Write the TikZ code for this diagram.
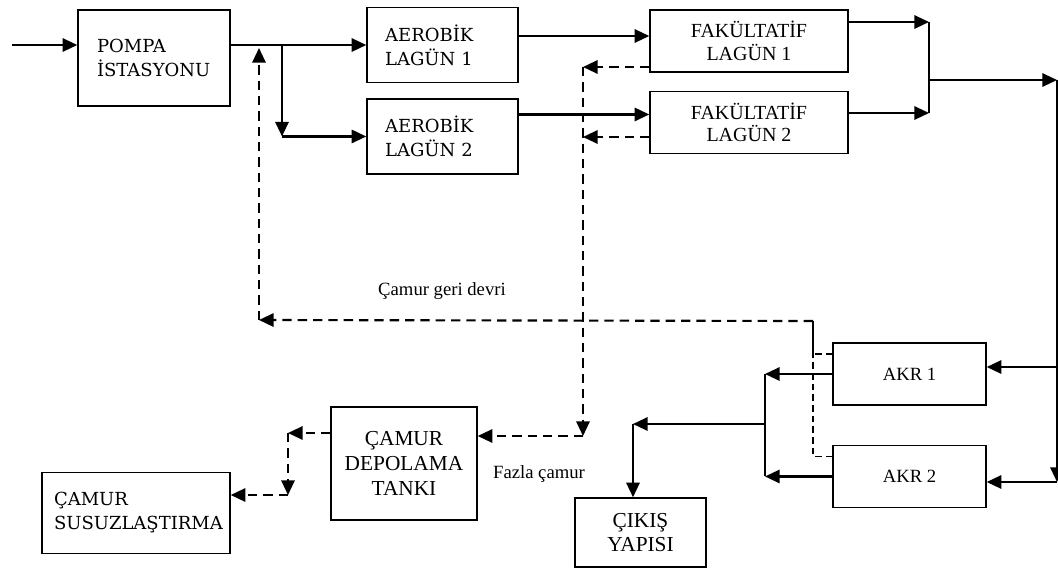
\documentclass[tikz,border=0pt]{standalone}
\usepackage{fontspec}
\setmainfont{Liberation Serif}
\newfontfamily\schfont{DejaVu Serif}
\usetikzlibrary{arrows.meta,positioning}

\begin{document}
\begin{tikzpicture}[
  x=0.75pt, y=-0.75pt,
  >={Triangle[length=11pt, width=10pt]},
  every node/.style={align=center},
  box/.style={draw=black, line width=1.1pt, inner sep=0pt,
              font=\fontsize{14}{17}\selectfont},
  leftbox/.style={draw=black, line width=1.1pt, inner sep=0pt, align=left,
                  font=\schfont\fontsize{13.5}{18}\selectfont},
  arr/.style={->, line width=1.6pt},
  link/.style={line width=1.6pt},
  darr/.style={->, line width=1.6pt, dash pattern=on 7pt off 4.5pt},
  thindash/.style={line width=0.8pt, dash pattern=on 5pt off 3pt},
  lbl/.style={font=\fontsize{14}{17}\selectfont},
]
\useasboundingbox (0,0) rectangle (1058,568);

% --- Pump and lagoons ---
\node[leftbox, minimum width=114pt, minimum height=72pt, text width=85.5pt]
  (pompa) at (154,58) {POMPA\\İSTASYONU};
\node[leftbox, minimum width=113.25pt, minimum height=56.25pt, text width=86pt]
  (aer1) at (442.5,45) {AEROBİK\\LAGÜN 1};
\node[leftbox, minimum width=113.25pt, minimum height=56.25pt, text width=86pt,
      below=11.25pt of aer1] (aer2) {AEROBİK\\LAGÜN 2};
\node[box, minimum width=148.5pt, minimum height=46.5pt,
      font=\fontsize{15}{17}\selectfont]
  (fak1) at (749,41) {FAKÜLTATİF\\LAGÜN 1};
\node[box, minimum width=148.5pt, minimum height=46.5pt,
      font=\fontsize{15}{17}\selectfont,
      below=13.5pt of fak1] (fak2) {FAKÜLTATİF\\LAGÜN 2};

% --- Clarifiers, outlet and sludge line ---
\node[box, minimum width=114.75pt, minimum height=46.5pt]
  (akr1) at (909.5,374) {AKR 1};
\node[box, minimum width=114.75pt, minimum height=46.5pt,
      below=29.25pt of akr1] (akr2) {AKR 2};
\node[box, minimum width=98.25pt, minimum height=51.75pt,
      font=\fontsize{16}{18}\selectfont]
  (cikis) at (640.5,532.5) {ÇIKIŞ\\YAPISI};
\node[box, minimum width=109.5pt, minimum height=84.75pt,
      font=\fontsize{16}{18.5}\selectfont]
  (depo) at (404,463.5) {ÇAMUR\\DEPOLAMA\\TANKI};
\node[leftbox, minimum width=141pt, minimum height=60.75pt, text width=123pt]
  (susuz) at (136,513) {ÇAMUR\\SUSUZLAŞTIRMA};

\node[lbl] (geri) at (442,291) {Çamur geri devri};
\node[lbl] (fazla) at (539,474) {Fazla çamur};

% --- Bend points ---
\coordinate (inlet) at (12,45);
\coordinate (split) at (282,45);
\coordinate (retdn) at (259,320);
\coordinate (retup) at (259,48);
\coordinate (fakin1) at ([yshift=3.75pt]fak1.west);
\coordinate (fakin2) at ([yshift=6pt]fak2.west);
\coordinate (fo1) at ([yshift=-19.5pt]fak1.west);
\coordinate (fo2) at ([yshift=-10.9pt]fak2.west);
\coordinate (ex1) at (583,67);
\coordinate (slg) at (583,436);
\coordinate (dp1) at (288,433);
\coordinate (dp2) at (288,495);
\coordinate (mixtop) at (929,22);
\coordinate (mixbot) at (929,113);
\coordinate (mix) at (929,80);
\coordinate (rtop) at (1057,80);
\coordinate (racr) at (1057,367);
\coordinate (rbot) at (1057,482);
\coordinate (kx) at (765,424);
\coordinate (cout) at (633,424);
\coordinate (rc) at (813,321);
\coordinate (ak1r) at ([yshift=15pt]akr1.west);
\coordinate (ak2r) at ([yshift=15pt]akr2.west);

% --- Water line ---
\draw[arr] (inlet) -- (inlet -| pompa.west);
\draw[arr] (pompa.east |- inlet) -- (inlet -| aer1.west);
\draw[arr] (split) -- (split |- aer2.west);
\draw[arr] (split |- aer2.west) -- (aer2.west);
\draw[arr] (aer1.east |- fakin1) -- (fakin1);
\draw[arr] (aer2.east |- fakin2) -- (fakin2);

\draw[arr] (mixtop -| fak1.east) -- (mixtop);
\draw[arr] (mixbot -| fak2.east) -- (mixbot);
\draw[link] (mixtop) -- (mixbot);
\draw[arr] (mix) -- (rtop);
\draw[arr] (rtop) -- (rbot);
\draw[arr] (racr) -- (racr -| akr1.east);
\draw[arr] (rbot) -- (rbot -| akr2.east);

\draw[arr] (akr1.west) -- (akr1.west -| kx);
\draw[arr] (akr2.west) -- (akr2.west -| kx);
\draw[link] (akr1.west -| kx) -- (akr2.west -| kx);
\draw[arr] (kx) -- (cout);
\draw[arr] (cout) -- (cout |- cikis.north);

% --- Sludge line ---
\draw[darr] (fo1) -- (fo1 -| ex1);
\draw[darr] (fo2) -- (fo2 -| ex1);
\draw[darr] (ex1) -- (slg);
\draw[darr] (slg) -- (slg -| depo.east);
\draw[darr] (depo.west |- dp1) -- (dp1);
\draw[darr] (dp1) -- (dp2);
\draw[darr] (dp2) -- (dp2 -| susuz.east);

\draw[thindash] (ak1r) -| (rc);
\draw[thindash] (ak2r) -| (rc);
\draw[darr] (rc) -- (retdn);
\draw[darr] (retdn) -- (retup);

\end{tikzpicture}
\end{document}
